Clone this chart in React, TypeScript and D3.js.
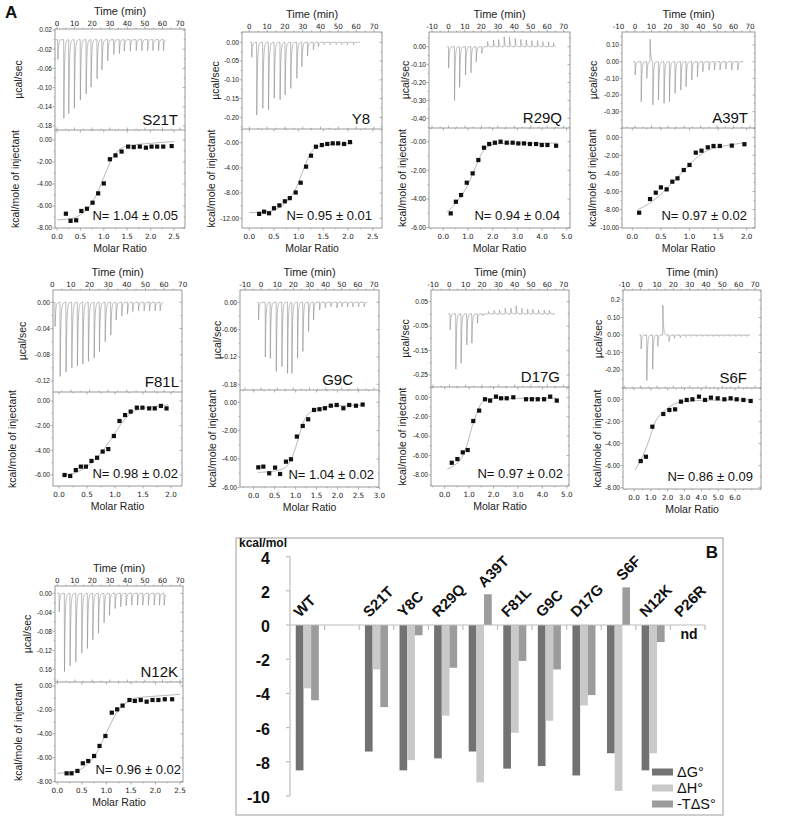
import React from 'react';
import * as d3 from 'd3';

const FONT = '"Liberation Sans", Arial, Helvetica, sans-serif';
const WIDE = '"DejaVu Sans", Verdana, sans-serif';

// ---------------- Panel A data ----------------
const time0to70 = [0, 10, 20, 30, 40, 50, 60, 70];
const timeM10to70 = [-10, 0, 10, 20, 30, 40, 50, 60, 70];

// S21T
const S21T_inj = [0.4, 3.8, 6.6, 9.8, 13.2, 16.5, 19.3, 22.7, 25.5, 28.8, 32.2, 35.4, 38.2, 41.6, 45.0, 48.2, 51.5, 54.5, 57.7, 60.5];
const S21T_peak = [-0.041, -0.164, -0.154, -0.143, -0.126, -0.113, -0.099, -0.081, -0.063, -0.044, -0.031, -0.029, -0.024, -0.024, -0.023, -0.023, -0.023, -0.023, -0.023, -0.023];
const S21T_span = [-0.6, 62];
const S21T_ratio = [0.19, 0.29, 0.41, 0.52, 0.64, 0.76, 0.88, 1.0, 1.13, 1.25, 1.38, 1.52, 1.64, 1.77, 1.9, 2.02, 2.14, 2.27, 2.45];
const S21T_heat = [-6.7, -7.35, -7.3, -6.45, -6.25, -5.7, -4.85, -3.95, -1.75, -1.4, -1.05, -0.6, -0.65, -0.6, -0.7, -0.6, -0.6, -0.6, -0.55];
const S21T_fitR = [0.0, 0.3, 0.5, 0.7, 0.85, 1.0, 1.15, 1.3, 1.5, 2.0, 2.5];
const S21T_fitH = [-7.25, -7.15, -6.8, -6.0, -4.9, -3.4, -1.9, -1.0, -0.55, -0.3, -0.15];
const S21T_rawT = [0.02, -0.02, -0.06, -0.1, -0.14, -0.18];
const S21T_rawL = ['0.02', '-0.02', '-0.06', '-0.10', '-0.14', '-0.18'];
const S21T_heatT = [0, -2, -4, -6, -8];
const S21T_heatL = ['0.00', '-2.00', '-4.00', '-6.00', '-8.00'];
const S21T_molarT = [0, 0.5, 1, 1.5, 2, 2.5];

// Y8
const Y8_inj = [1.3, 4.1, 7.5, 10.7, 13.9, 17.2, 20.0, 23.2, 26.6, 29.4, 32.6, 35.9, 38.7, 41.9, 45.3, 48.7, 51.8, 55.0, 58.4];
const Y8_peak = [-0.04, -0.194, -0.176, -0.18, -0.149, -0.153, -0.14, -0.123, -0.096, -0.065, -0.036, -0.02, -0.012, -0.006, -0.006, -0.006, -0.006, -0.006, -0.006];
const Y8_span = [0.3, 62];
const Y8_ratio = [0.2, 0.3, 0.4, 0.5, 0.61, 0.72, 0.82, 0.94, 1.04, 1.15, 1.25, 1.35, 1.47, 1.58, 1.69, 1.8, 1.92, 2.04];
const Y8_heat = [-11.3, -10.95, -11.2, -10.4, -9.95, -9.3, -8.8, -7.9, -6.35, -3.8, -2.06, -0.64, -0.37, -0.2, -0.1, -0.1, -0.2, 0.1];
const Y8_fitR = [0.0, 0.4, 0.6, 0.8, 0.95, 1.05, 1.15, 1.25, 1.4, 1.7, 2.1];
const Y8_fitH = [-11.1, -10.9, -10.3, -9.0, -7.2, -5.2, -3.2, -1.6, -0.6, -0.25, -0.15];
const Y8_rawT = [0, -0.05, -0.1, -0.15, -0.2];
const Y8_rawL = ['0.00', '-0.05', '-0.10', '-0.15', '-0.20'];
const Y8_heatT = [0, -4, -8, -12];
const Y8_heatL = ['-0.00', '-4.00', '-8.00', '-12.00'];
const Y8_molarT = [0, 0.5, 1, 1.5, 2, 2.5];

// R29Q
const R29Q_inj = [0, 3.6, 6.7, 10.3, 13.6, 16.8, 20.2, 23.7, 27.3, 30.4, 33.8, 37.0, 40.5, 43.9, 47.2, 50.6, 54.0, 57.3, 60.7, 63.8];
const R29Q_peak = [-0.12, -0.3, -0.227, -0.158, -0.145, -0.084, -0.037, 0.028, 0.037, 0.04, 0.056, 0.052, 0.046, 0.04, 0.037, 0.033, 0.033, 0.028, 0.028, 0.022];
const R29Q_span = [-1, 65.4];
const R29Q_ratio = [0.3, 0.51, 0.72, 0.95, 1.19, 1.42, 1.65, 1.86, 2.09, 2.32, 2.57, 2.81, 3.04, 3.27, 3.51, 3.76, 3.99, 4.22, 4.57];
const R29Q_heat = [-5.0, -4.19, -3.72, -2.86, -2.21, -1.28, -0.42, -0.16, -0.07, 0.0, -0.07, -0.07, -0.12, -0.12, -0.16, -0.16, -0.23, -0.23, -0.28];
const R29Q_fitR = [0.14, 0.5, 0.8, 1.0, 1.2, 1.4, 1.6, 1.8, 2.2, 3.0, 4.6];
const R29Q_fitH = [-4.9, -4.3, -3.6, -3.0, -2.2, -1.4, -0.7, -0.35, -0.15, -0.1, -0.1];
const R29Q_rawT = [0, -0.1, -0.2, -0.3, -0.4];
const R29Q_rawL = ['0.00', '-0.10', '-0.20', '-0.30', '-0.40'];
const R29Q_heatT = [0, -2, -4, -6];
const R29Q_heatL = ['-0.00', '-2.00', '-4.00', '-6.00'];
const R29Q_molarT = [0, 1, 2, 3, 4, 5];

// A39T
const A39T_inj = [0, 3.7, 7.1, 9.1, 10.8, 14.2, 17.6, 20.9, 24.3, 27.8, 31.0, 34.5, 37.9, 41.2, 45.0, 48.3, 51.7, 55.2, 58.8, 62.5];
const A39T_peak = [-0.08, -0.24, -0.1, 0.134, -0.26, -0.23, -0.25, -0.24, -0.19, -0.17, -0.15, -0.11, -0.09, -0.06, -0.05, -0.05, -0.05, -0.045, -0.05, -0.05];
const A39T_span = [-1, 66];
const A39T_ratio = [0.12, 0.31, 0.41, 0.5, 0.6, 0.7, 0.79, 0.9, 1.0, 1.11, 1.21, 1.32, 1.42, 1.53, 1.74, 1.96];
const A39T_heat = [-8.34, -6.83, -6.13, -5.54, -5.76, -4.91, -4.54, -3.62, -3.06, -1.7, -1.48, -1.11, -0.96, -0.96, -0.92, -0.77];
const A39T_fitR = [0.1, 0.3, 0.5, 0.7, 0.9, 1.1, 1.3, 1.5, 1.8, 2.0];
const A39T_fitH = [-8.0, -7.3, -6.3, -5.0, -3.7, -2.4, -1.5, -1.1, -0.75, -0.55];
const A39T_rawT = [0.1, 0, -0.1, -0.2, -0.3];
const A39T_rawL = ['0.10', '0.00', '-0.10', '-0.20', '-0.30'];
const A39T_heatT = [0, -2, -4, -6, -8, -10];
const A39T_heatL = ['0.00', '-2.00', '-4.00', '-6.00', '-8.00', '-10.00'];
const A39T_molarT = [0, 0.5, 1, 1.5, 2];

// F81L
const F81L_inj = [1.4, 4.1, 7.3, 10.4, 13.4, 16.3, 19.3, 22.4, 25.2, 28.3, 31.3, 34.2, 37.2, 40.3, 43.1, 46.2, 49.2, 52.1, 55.1, 57.8];
const F81L_peak = [-0.037, -0.113, -0.106, -0.1, -0.097, -0.094, -0.09, -0.085, -0.075, -0.06, -0.05, -0.027, -0.021, -0.018, -0.014, -0.013, -0.013, -0.013, -0.013, -0.013];
const F81L_span = [0.4, 59.6];
const F81L_ratio = [0.1, 0.2, 0.3, 0.39, 0.48, 0.58, 0.68, 0.78, 0.88, 0.98, 1.08, 1.18, 1.28, 1.39, 1.49, 1.61, 1.71, 1.82, 1.92];
const F81L_heat = [-6.0, -6.08, -5.6, -5.32, -5.32, -4.86, -4.6, -4.1, -3.9, -2.84, -1.62, -1.14, -0.86, -0.54, -0.54, -0.6, -0.6, -0.4, -0.6];
const F81L_fitR = [0.05, 0.3, 0.5, 0.7, 0.85, 1.0, 1.15, 1.3, 1.5, 1.7, 1.95];
const F81L_fitH = [-6.05, -5.8, -5.3, -4.5, -3.6, -2.6, -1.6, -0.95, -0.6, -0.45, -0.3];
const F81L_rawT = [0, -0.04, -0.08, -0.12];
const F81L_rawL = ['0.00', '-0.04', '-0.08', '-0.12'];
const F81L_heatT = [0, -2, -4, -6];
const F81L_heatL = ['0.00', '-2.00', '-4.00', '-6.00'];
const F81L_molarT = [0, 0.5, 1, 1.5, 2];

// G9C
const G9C_inj = [-1.7, 2.5, 5.6, 9.3, 12.8, 16.3, 19.0, 22.5, 25.8, 29.3, 32.4, 36.2, 39.7, 43.2, 46.9, 50.0, 53.5, 56.8, 60.3, 63.8];
const G9C_peak = [-0.039, -0.12, -0.123, -0.152, -0.141, -0.156, -0.156, -0.123, -0.108, -0.064, -0.039, -0.017, -0.012, -0.01, -0.012, -0.01, -0.01, -0.01, -0.01, -0.01];
const G9C_span = [-2.3, 66];
const G9C_ratio = [0.11, 0.23, 0.37, 0.51, 0.63, 0.77, 0.89, 1.03, 1.17, 1.3, 1.44, 1.57, 1.7, 1.84, 1.98, 2.14, 2.28, 2.44, 2.6];
const G9C_heat = [-4.59, -4.54, -5.01, -4.61, -5.06, -4.19, -4.02, -2.42, -1.67, -1.2, -0.54, -0.49, -0.42, -0.24, -0.19, -0.42, -0.19, -0.24, -0.16];
const G9C_fitR = [0.1, 0.5, 0.75, 0.9, 1.0, 1.1, 1.2, 1.35, 1.6, 2.0, 2.6];
const G9C_fitH = [-4.95, -4.85, -4.6, -4.0, -3.2, -2.2, -1.3, -0.7, -0.4, -0.25, -0.2];
const G9C_rawT = [0, -0.06, -0.12, -0.18];
const G9C_rawL = ['0.00', '-0.06', '-0.12', '-0.18'];
const G9C_heatT = [0, -2, -4, -6];
const G9C_heatL = ['0.00', '-2.00', '-4.00', '-6.00'];
const G9C_molarT = [0, 0.5, 1, 1.5, 2, 2.5, 3];

// D17G
const D17G_inj = [0.4, 3.9, 7.1, 10.6, 13.7, 17.1, 20.4, 23.9, 27.3, 30.6, 34.1, 37.6, 40.8, 44.3, 47.8, 51.0, 54.5, 58.0, 61.2];
const D17G_peak = [-0.065, -0.226, -0.202, -0.127, -0.12, -0.038, -0.008, 0.01, 0.014, 0.016, 0.023, 0.023, 0.033, 0.023, 0.019, 0.019, 0.016, 0.016, 0.014];
const D17G_span = [-0.6, 64.7];
const D17G_ratio = [0.29, 0.52, 0.74, 0.94, 1.17, 1.41, 1.65, 1.86, 2.1, 2.31, 2.54, 2.81, 3.33, 3.57, 3.81, 4.07, 4.32, 4.59];
const D17G_heat = [-6.74, -6.36, -5.67, -5.43, -2.44, -1.37, -0.2, -0.34, 0.07, -0.1, -0.1, 0.0, -0.2, -0.2, -0.2, -0.2, 0.07, -0.34];
const D17G_fitR = [0.1, 0.4, 0.7, 0.9, 1.1, 1.3, 1.5, 1.8, 2.5, 4.6];
const D17G_fitH = [-7.4, -7.0, -6.2, -5.0, -3.2, -1.7, -0.6, -0.15, -0.1, -0.1];
const D17G_rawT = [0.05, -0.05, -0.15, -0.25];
const D17G_rawL = ['0.05', '-0.05', '-0.15', '-0.25'];
const D17G_heatT = [0, -2, -4, -6, -8];
const D17G_heatL = ['0.00', '-2.00', '-4.00', '-6.00', '-8.00'];
const D17G_molarT = [0, 1, 2, 3, 4, 5];

// S6F
const S6F_inj = [0.2, 3.7, 7.3, 10.4, 13.5, 17.3, 20.6, 24.1, 27.6, 30.8, 34.3, 37.8, 41.0, 44.5, 48.0, 51.2, 54.7, 58.2, 61.4, 64.9];
const S6F_peak = [-0.08, -0.26, -0.195, -0.065, 0.17, -0.037, -0.02, -0.015, -0.01, -0.008, -0.008, -0.008, -0.008, -0.008, -0.008, -0.008, -0.008, -0.008, -0.008, -0.008];
const S6F_span = [-0.8, 67];
const S6F_ratio = [0.4, 0.71, 1.09, 1.74, 2.1, 2.44, 2.79, 3.13, 3.47, 3.86, 4.22, 4.57, 4.97, 5.37, 5.74, 6.1, 6.5, 6.93];
const S6F_heat = [-5.59, -5.2, -2.48, -1.33, -0.97, -0.91, -0.21, -0.06, 0.0, 0.24, -0.06, 0.15, 0.09, 0.0, 0.09, 0.0, -0.06, -0.15];
const S6F_fitR = [0.06, 0.4, 0.75, 1.0, 1.25, 1.5, 1.85, 2.3, 2.8, 4.0, 7.0];
const S6F_fitH = [-6.4, -5.5, -4.3, -3.2, -2.1, -1.5, -1.0, -0.5, -0.25, -0.1, -0.05];
const S6F_rawT = [0.2, 0.1, 0, -0.1, -0.2];
const S6F_rawL = ['0.2', '0.10', '0.00', '-0.10', '-0.20'];
const S6F_heatT = [0, -2, -4, -6, -8];
const S6F_heatL = ['0.00', '-2.00', '-4.00', '-6.00', '-8.00'];
const S6F_molarT = [0, 1, 2, 3, 4, 5, 6];

// N12K
const N12K_inj = [1.0, 4.0, 7.2, 10.5, 13.9, 17.1, 20.2, 23.4, 26.6, 29.7, 32.9, 36.1, 39.2, 42.4, 45.7, 48.7, 51.9, 55.2, 58.2, 60.9];
const N12K_peak = [-0.039, -0.165, -0.153, -0.144, -0.126, -0.116, -0.098, -0.084, -0.062, -0.046, -0.032, -0.028, -0.026, -0.025, -0.025, -0.025, -0.025, -0.025, -0.025, -0.025];
const N12K_span = [0, 61.8];
const N12K_ratio = [0.19, 0.29, 0.41, 0.52, 0.63, 0.75, 0.86, 0.98, 1.11, 1.22, 1.33, 1.47, 1.58, 1.7, 1.82, 1.94, 2.06, 2.19, 2.34];
const N12K_heat = [-7.3, -7.3, -7.1, -6.46, -6.27, -5.85, -5.01, -4.18, -2.23, -1.95, -1.64, -1.17, -1.25, -1.17, -1.31, -1.17, -1.17, -1.11, -1.11];
const N12K_fitR = [0.0, 0.4, 0.6, 0.8, 1.0, 1.2, 1.4, 1.6, 2.0, 2.5];
const N12K_fitH = [-7.3, -7.1, -6.6, -5.6, -3.9, -2.3, -1.4, -1.0, -0.85, -0.7];
const N12K_rawT = [0, -0.04, -0.08, -0.12, -0.16];
const N12K_rawL = ['0.00', '-0.04', '-0.08', '-0.12', '0.16'];
const N12K_heatT = [0, -2, -4, -6, -8];
const N12K_heatL = ['0.00', '-2.00', '-4.00', '-6.00', '-8.00'];
const N12K_molarT = [0, 0.5, 1, 1.5, 2, 2.5];

const panelNames = ['S21T', 'Y8', 'R29Q', 'A39T', 'F81L', 'G9C', 'D17G', 'S6F', 'N12K'];
const panelN = ['N= 1.04 ± 0.05', 'N= 0.95 ± 0.01', 'N= 0.94 ± 0.04', 'N= 0.97 ± 0.02', 'N= 0.98 ± 0.02', 'N= 1.04 ± 0.02', 'N= 0.97 ± 0.02', 'N= 0.86 ± 0.09', 'N= 0.96 ± 0.02'];

// ---------------- Panel B data ----------------
const barCats = ['WT', '', 'S21T', 'Y8C', 'R29Q', 'A39T', 'F81L', 'G9C', 'D17G', 'S6F', 'N12K', 'P26R'];
const dG = [-8.5, null, -7.4, -8.5, -7.8, -7.4, -8.4, -8.25, -8.8, -7.5, -8.5, null];
const dH = [-3.7, null, -2.6, -7.9, -5.3, -9.2, -6.3, -5.6, -4.7, -9.7, -7.5, null];
const mTdS = [-4.4, null, -4.8, -0.6, -2.5, 1.8, -2.1, -2.6, -4.1, 2.2, -1.0, null];
const barYTicks = [4, 2, 0, -2, -4, -6, -8, -10];
const seriesNames = ['ΔG°', 'ΔH°', '-TΔS°'];
const seriesColors = ['#727272', '#c9c9c9', '#9c9c9c'];

// ---------------- layout (positions only) ----------------
type Lay = {
  L: number; R: number; T: number; M: number; B: number;
  t: number[][]; r: number[][]; h: number[][]; m: number[][];
  muX: number; kcX: number; nameDx: number; nDx: number;
};
const layouts: Lay[] = [
  { L: 55, R: 185, T: 29, M: 130, B: 228, t: [[0, 57], [70, 180]], r: [[0.02, 30], [-0.18, 126]], h: [[0, 140], [-8, 228]], m: [[0, 57], [2.5, 174]], muX: 18, kcX: 15, nameDx: 7, nDx: 7 },
  { L: 242, R: 382, T: 32, M: 129, B: 228, t: [[0, 249.3], [70, 374]], r: [[0, 42.3], [-0.2, 117.3]], h: [[0, 142.7], [-12, 218.3]], m: [[0, 249.3], [2.5, 372.7]], muX: 215, kcX: 211, nameDx: 12, nDx: 10 },
  { L: 429, R: 570, T: 32, M: 128, B: 228, t: [[-10, 432], [70, 563.6]], r: [[0, 46.7], [-0.4, 118.3]], h: [[0, 141.7], [-6, 227.7]], m: [[0, 443.3], [5, 566.7]], muX: 405, kcX: 402, nameDx: 8, nDx: 10 },
  { L: 622, R: 755, T: 32, M: 128, B: 228, t: [[0, 635], [70, 750]], r: [[0.1, 45], [-0.3, 111.7]], h: [[0, 137.3], [-10, 227.7]], m: [[0, 632.3], [2, 746.7]], muX: 593, kcX: 592, nameDx: 7, nDx: 8 },
  { L: 53, R: 182, T: 290, M: 392, B: 486, t: [[0, 52.3], [70, 182.7]], r: [[0, 302.3], [-0.12, 381]], h: [[0, 401], [-6, 475]], m: [[0, 59], [2, 171]], muX: 22, kcX: 12, nameDx: 3, nDx: 4 },
  { L: 240, R: 379, T: 290, M: 390, B: 487, t: [[-10, 245], [70, 374]], r: [[0, 302.3], [-0.18, 384.3]], h: [[0, 402.3], [-6, 487.3]], m: [[0, 253.7], [3, 379.4]], muX: 217, kcX: 212, nameDx: 26, nDx: 5 },
  { L: 431, R: 569, T: 290, M: 387, B: 486, t: [[-10, 433], [70, 563.7]], r: [[0.05, 301.7], [-0.25, 375]], h: [[0, 397.3], [-8, 475]], m: [[0, 444.7], [5, 566.8]], muX: 405, kcX: 402, nameDx: 9, nDx: 6 },
  { L: 623, R: 761, T: 290, M: 388, B: 489, t: [[-10, 624.3], [70, 755]], r: [[0, 335], [-0.2, 370]], h: [[0, 399.3], [-8, 487.7]], m: [[0, 634], [6, 735]], muX: 598, kcX: 597, nameDx: 14, nDx: 8 },
  { L: 55, R: 183, T: 586, M: 682, B: 782, t: [[0, 57.3], [70, 180]], r: [[0, 593.3], [-0.16, 669.3]], h: [[0, 686], [-8, 781.7]], m: [[0, 57.3], [2.5, 180]], muX: 27, kcX: 18, nameDx: 5, nDx: 2 },
];

const panelData = [
  { inj: S21T_inj, peak: S21T_peak, span: S21T_span, ratio: S21T_ratio, heat: S21T_heat, fitR: S21T_fitR, fitH: S21T_fitH, rawT: S21T_rawT, rawL: S21T_rawL, heatT: S21T_heatT, heatL: S21T_heatL, molarT: S21T_molarT, timeT: time0to70 },
  { inj: Y8_inj, peak: Y8_peak, span: Y8_span, ratio: Y8_ratio, heat: Y8_heat, fitR: Y8_fitR, fitH: Y8_fitH, rawT: Y8_rawT, rawL: Y8_rawL, heatT: Y8_heatT, heatL: Y8_heatL, molarT: Y8_molarT, timeT: time0to70 },
  { inj: R29Q_inj, peak: R29Q_peak, span: R29Q_span, ratio: R29Q_ratio, heat: R29Q_heat, fitR: R29Q_fitR, fitH: R29Q_fitH, rawT: R29Q_rawT, rawL: R29Q_rawL, heatT: R29Q_heatT, heatL: R29Q_heatL, molarT: R29Q_molarT, timeT: timeM10to70 },
  { inj: A39T_inj, peak: A39T_peak, span: A39T_span, ratio: A39T_ratio, heat: A39T_heat, fitR: A39T_fitR, fitH: A39T_fitH, rawT: A39T_rawT, rawL: A39T_rawL, heatT: A39T_heatT, heatL: A39T_heatL, molarT: A39T_molarT, timeT: timeM10to70 },
  { inj: F81L_inj, peak: F81L_peak, span: F81L_span, ratio: F81L_ratio, heat: F81L_heat, fitR: F81L_fitR, fitH: F81L_fitH, rawT: F81L_rawT, rawL: F81L_rawL, heatT: F81L_heatT, heatL: F81L_heatL, molarT: F81L_molarT, timeT: time0to70 },
  { inj: G9C_inj, peak: G9C_peak, span: G9C_span, ratio: G9C_ratio, heat: G9C_heat, fitR: G9C_fitR, fitH: G9C_fitH, rawT: G9C_rawT, rawL: G9C_rawL, heatT: G9C_heatT, heatL: G9C_heatL, molarT: G9C_molarT, timeT: timeM10to70 },
  { inj: D17G_inj, peak: D17G_peak, span: D17G_span, ratio: D17G_ratio, heat: D17G_heat, fitR: D17G_fitR, fitH: D17G_fitH, rawT: D17G_rawT, rawL: D17G_rawL, heatT: D17G_heatT, heatL: D17G_heatL, molarT: D17G_molarT, timeT: timeM10to70 },
  { inj: S6F_inj, peak: S6F_peak, span: S6F_span, ratio: S6F_ratio, heat: S6F_heat, fitR: S6F_fitR, fitH: S6F_fitH, rawT: S6F_rawT, rawL: S6F_rawL, heatT: S6F_heatT, heatL: S6F_heatL, molarT: S6F_molarT, timeT: timeM10to70 },
  { inj: N12K_inj, peak: N12K_peak, span: N12K_span, ratio: N12K_ratio, heat: N12K_heat, fitR: N12K_fitR, fitH: N12K_fitH, rawT: N12K_rawT, rawL: N12K_rawL, heatT: N12K_heatT, heatL: N12K_heatL, molarT: N12K_molarT, timeT: time0to70 },
];

// rendering of each injection peak (shape only; heights come from data)
function rawTrace(inj: number[], peak: number[], span: number[]): [number, number][] {
  const ts: number[] = [];
  for (let t = span[0]; t <= span[1]; t += 0.04) ts.push(t);
  inj.forEach((ti) => { ts.push(ti, ti + 0.1); });
  ts.sort((a, b) => a - b);
  return ts.filter((t) => t >= span[0] && t <= span[1]).map((t) => {
    let y = 0;
    inj.forEach((ti, i) => {
      const dt = t - ti;
      if (dt < 0) return;
      const s = dt < 0.1 ? dt / 0.1 : Math.exp(-(dt - 0.1) / 0.38);
      y += peak[i] * s;
    });
    return [t, y];
  });
}

const lin = (a: number[], b: number[]) => d3.scaleLinear().domain([a[0], b[0]]).range([a[1], b[1]]);

function ITCPanel({ idx }: { idx: number }) {
  const lay = layouts[idx];
  const d = panelData[idx];
  const name = panelNames[idx];
  const { L, R, T, M, B } = lay;
  const tx = lin(lay.t[0], lay.t[1]);
  const ry = lin(lay.r[0], lay.r[1]);
  const hy = lin(lay.h[0], lay.h[1]);
  const mx = lin(lay.m[0], lay.m[1]);
  const trace = rawTrace(d.inj, d.peak, d.span);
  const rawLine = d3.line<[number, number]>().x((p) => tx(p[0])).y((p) => ry(p[1]));
  const fitPts: [number, number][] = d.fitR.map((r, i) => [r, d.fitH[i]]);
  const fitLine = d3.line<[number, number]>().x((p) => mx(p[0])).y((p) => hy(p[1])).curve(d3.curveMonotoneX);
  const clipTop = `clipTop${idx}`;
  const clipBot = `clipBot${idx}`;
  const stroke = '#808080';
  const inX = (x: number) => x >= L - 0.5 && x <= R + 0.5;
  const inYt = (y: number) => y >= T - 0.5 && y <= M + 0.5;
  const inYb = (y: number) => y >= M - 0.5 && y <= B + 0.5;
  const timeStep = d.timeT[1] - d.timeT[0];
  const timeMinor = d3.range(d.timeT[0] - timeStep, d.timeT[d.timeT.length - 1] + timeStep, timeStep / 2);
  const molStep = d.molarT[1] - d.molarT[0];
  const molMinor = d3.range(d.molarT[0] - molStep, d.molarT[d.molarT.length - 1] + 2 * molStep, molStep / 2);
  const rawStep = d.rawT[0] - d.rawT[1];
  const rawMinor = d3.range(-12, 12).map((k) => d.rawT[0] + (k * rawStep) / 2);
  const heatStep = d.heatT[0] - d.heatT[1];
  const heatMinor = d3.range(-12, 16).map((k) => d.heatT[0] - (k * heatStep) / 2);
  return (
    <g>
      <defs>
        <clipPath id={clipTop}><rect x={L} y={T} width={R - L} height={M - T} /></clipPath>
        <clipPath id={clipBot}><rect x={L} y={M} width={R - L} height={B - M} /></clipPath>
      </defs>
      <path d={rawLine(trace) || ''} fill="none" stroke="#8c8c8c" strokeWidth={0.6} clipPath={`url(#${clipTop})`} />
      <path d={fitLine(fitPts) || ''} fill="none" stroke="#9a9a9a" strokeWidth={0.7} clipPath={`url(#${clipBot})`} />
      {d.ratio.map((r, i) => (
        <rect key={i} x={mx(r) - 2.1} y={hy(d.heat[i]) - 2.1} width={4.2} height={4.2} fill="#111" />
      ))}
      <rect x={L} y={T} width={R - L} height={B - T} fill="none" stroke={stroke} strokeWidth={0.8} />
      <line x1={L} x2={R} y1={M} y2={M} stroke={stroke} strokeWidth={0.8} />
      {timeMinor.filter((v) => inX(tx(v))).map((v, i) => {
        const major = d.timeT.includes(v);
        const len = major ? 2.5 : 1.3;
        return (
          <g key={'tm' + i}>
            <line x1={tx(v)} x2={tx(v)} y1={T} y2={T - len} stroke={stroke} strokeWidth={0.6} />
            <line x1={tx(v)} x2={tx(v)} y1={M} y2={M - len} stroke={stroke} strokeWidth={0.6} />
          </g>
        );
      })}
      {d.timeT.map((v) => (
        <text key={'tl' + v} x={tx(v)} y={T - 3.5} fontSize={7.2} fontFamily={WIDE} textAnchor="middle" fill="#222">{v}</text>
      ))}
      <text x={(L + R) / 2} y={T - 14} fontSize={11} fontFamily={FONT} textAnchor="middle" fill="#222">Time (min)</text>
      {molMinor.filter((v) => inX(mx(v))).map((v, i) => {
        const major = d.molarT.some((m) => Math.abs(m - v) < 1e-6);
        const len = major ? 2.5 : 1.3;
        return (
          <g key={'mm' + i}>
            <line x1={mx(v)} x2={mx(v)} y1={B} y2={B + len} stroke={stroke} strokeWidth={0.6} />
            <line x1={mx(v)} x2={mx(v)} y1={M} y2={M + len} stroke={stroke} strokeWidth={0.6} />
          </g>
        );
      })}
      {d.molarT.map((v) => (
        <text key={'ml' + v} x={mx(v)} y={B + 11} fontSize={7.2} fontFamily={WIDE} textAnchor="middle" fill="#222">{v.toFixed(1)}</text>
      ))}
      <text x={(L + R) / 2} y={B + 23.5} fontSize={10.5} fontFamily={FONT} textAnchor="middle" fill="#222">Molar Ratio</text>
      {rawMinor.filter((v) => inYt(ry(v))).map((v, i) => {
        const major = d.rawT.some((m) => Math.abs(m - v) < 1e-9);
        const len = major ? 2.5 : 1.3;
        return (
          <g key={'rm' + i}>
            <line x1={L} x2={L - len} y1={ry(v)} y2={ry(v)} stroke={stroke} strokeWidth={0.6} />
            <line x1={R} x2={R - len} y1={ry(v)} y2={ry(v)} stroke={stroke} strokeWidth={0.6} />
          </g>
        );
      })}
      {d.rawT.map((v, i) => (
        <text key={'rl' + i} x={L - 3} y={ry(v) + 2.3} fontSize={6.6} fontFamily={FONT} textAnchor="end" fill="#222">{d.rawL[i]}</text>
      ))}
      {heatMinor.filter((v) => inYb(hy(v))).map((v, i) => {
        const major = d.heatT.some((m) => Math.abs(m - v) < 1e-9);
        const len = major ? 2.5 : 1.3;
        return (
          <g key={'hm' + i}>
            <line x1={L} x2={L - len} y1={hy(v)} y2={hy(v)} stroke={stroke} strokeWidth={0.6} />
            <line x1={R} x2={R - len} y1={hy(v)} y2={hy(v)} stroke={stroke} strokeWidth={0.6} />
          </g>
        );
      })}
      {d.heatT.map((v, i) => (
        <text key={'hl' + i} x={L - 3} y={hy(v) + 2.3} fontSize={6.6} fontFamily={FONT} textAnchor="end" fill="#222">{d.heatL[i]}</text>
      ))}
      <text transform={`translate(${lay.muX + 4},${(T + M) / 2}) rotate(-90)`} fontSize={10.5} fontFamily={FONT} textAnchor="middle" fill="#222">µcal/sec</text>
      <text transform={`translate(${lay.kcX + 4},${(M + B) / 2}) rotate(-90)`} fontSize={10.5} fontFamily={FONT} textAnchor="middle" fill="#222">kcal/mole of injectant</text>
      <text x={R - lay.nameDx} y={M - 5} fontSize={15} fontFamily={FONT} textAnchor="end" fill="#111">{name}</text>
      <text x={R - lay.nDx} y={B - 8} fontSize={13} fontFamily={FONT} textAnchor="end" fill="#111">{panelN[idx]}</text>
    </g>
  );
}

function BarPanel() {
  const box = { x0: 236, x1: 723, y0: 538, y1: 815 };
  const x = d3.scaleBand<string>().domain(barCats.map((_, i) => String(i))).range([290, 705]).padding(0);
  const inner = d3.scaleBand<number>().domain([0, 1, 2]).range([0, x.bandwidth()]).paddingInner(0).paddingOuter(0.75);
  const y = d3.scaleLinear().domain([-10, 4]).range([796, 556.6]);
  const series = [dG, dH, mTdS];
  const y0 = y(0);
  return (
    <g>
      <rect x={box.x0} y={box.y0} width={box.x1 - box.x0} height={box.y1 - box.y0} fill="none" stroke="#b4b4b4" strokeWidth={1.3} />
      <text x={box.x0 + 3} y={546.5} fontSize={12} fontWeight="bold" fontFamily={FONT} fill="#111">kcal/mol</text>
      <text x={718} y={558} fontSize={17} fontWeight="bold" fontFamily={FONT} textAnchor="end" fill="#111">B</text>
      {series.map((vals, s) =>
        vals.map((v, i) => (v == null ? null : (
          <rect key={`b${s}-${i}`} x={(x(String(i)) as number) + (inner(s) as number)} width={inner.bandwidth()}
            y={Math.min(y(v), y0)} height={Math.abs(y(v) - y0)} fill={seriesColors[s]} />
        )))
      )}
      <line x1={290} x2={290} y1={y(4)} y2={y(-10)} stroke="#bdbdbd" strokeWidth={1.2} />
      {barYTicks.map((t) => (
        <g key={'yt' + t}>
          <line x1={286} x2={290} y1={y(t)} y2={y(t)} stroke="#bdbdbd" strokeWidth={1.2} />
          <text x={270} y={y(t) + 7} fontSize={16} fontWeight="bold" fontFamily={FONT} textAnchor="end" fill="#111">{t}</text>
        </g>
      ))}
      <line x1={290} x2={705} y1={y0} y2={y0} stroke="#bdbdbd" strokeWidth={1.2} />
      {barCats.map((_, i) => (
        <line key={'xt' + i} x1={(x(String(i)) as number) + x.bandwidth()} x2={(x(String(i)) as number) + x.bandwidth()} y1={y0} y2={y0 + 5} stroke="#bdbdbd" strokeWidth={1.2} />
      ))}
      {barCats.map((c, i) => {
        if (!c) return null;
        const vals = [dG[i], dH[i], mTdS[i]].filter((v) => v != null) as number[];
        const top = vals.length ? Math.max(0, ...vals) : 0;
        const bx = x(String(i)) as number;
        const lx = top > 0 ? bx + (inner(2) as number) : bx + 10;
        const ly = top > 0 ? y(top) - 6 : y0 - 7;
        return (
          <text key={'lab' + i} transform={`translate(${lx},${ly}) rotate(-45)`} fontSize={15} fontWeight="bold" fontFamily={FONT} fill="#111">{c}</text>
        );
      })}
      {barCats.map((c, i) => (c && dG[i] == null ? (
        <text key={'nd' + i} x={(x(String(i)) as number) + 10} y={y0 + 14} fontSize={14} fontWeight="bold" fontFamily={FONT} fill="#111">nd</text>
      ) : null))}
      {seriesNames.map((n, s) => (
        <g key={'lg' + s}>
          <rect x={652} y={768.5 + s * 16} width={21} height={7} fill={seriesColors[s]} />
          <text x={677} y={777 + s * 16} fontSize={14.5} fontFamily={FONT} fill="#111">{n}</text>
        </g>
      ))}
    </g>
  );
}

export default function App() {
  return (
    <svg width={787} height={823} viewBox="0 0 787 823" style={{ position: 'absolute', left: 0, top: 0, background: '#fff' }}>
      <rect x={0} y={0} width={787} height={823} fill="#fff" />
      <text x={5} y={18} fontSize={17} fontWeight="bold" fontFamily={FONT} fill="#111">A</text>
      {layouts.map((_, i) => <ITCPanel key={i} idx={i} />)}
      <BarPanel />
    </svg>
  );
}
